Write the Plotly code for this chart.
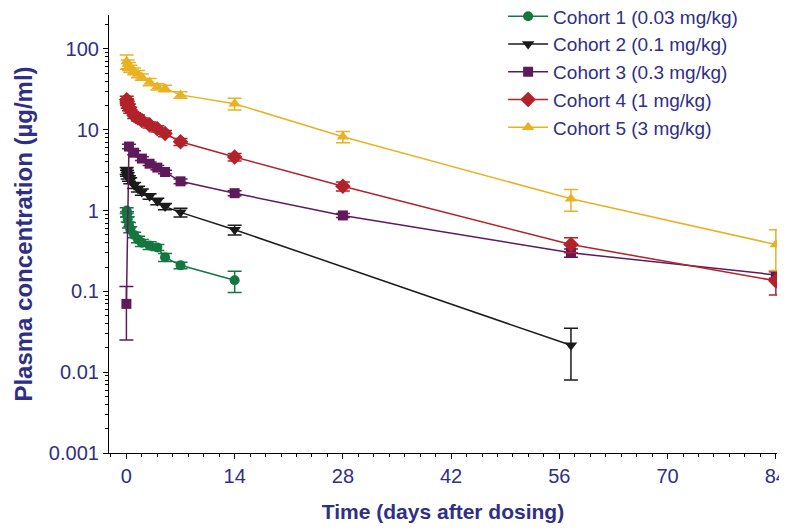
import plotly.graph_objects as go

# ---- data ----
c1_t = [0.04, 0.08, 0.17, 0.33, 0.5, 1, 1.5, 2, 3, 4, 5, 7, 14]
c1_v = [1.0, 0.9, 0.78, 0.66, 0.58, 0.5, 0.44, 0.4, 0.37, 0.35, 0.265, 0.21, 0.137]
c1_e = [0.08, 0.07, 0.06, 0.05, 0.05, 0.04, 0.04, 0.04, 0.04, 0.03, 0.03, 0.02, 0.04]

c2_t = [0.04, 0.08, 0.17, 0.33, 0.5, 1, 1.5, 2, 3, 4, 5, 7, 14, 57.5]
c2_v = [3.1, 2.9, 2.7, 2.5, 2.35, 2.05, 1.85, 1.7, 1.5, 1.3, 1.12, 0.95, 0.58, 0.0215]
c2_e = [0.3, 0.25, 0.25, 0.2, 0.2, 0.18, 0.15, 0.15, 0.12, 0.12, 0.1, 0.12, 0.08, 0.0135]

c3_t = [0, 0.33, 1, 2, 3, 4, 5, 7, 14, 28, 57.5, 84]
c3_v = [0.07, 6.2, 5.2, 4.4, 3.8, 3.4, 3.0, 2.3, 1.64, 0.87, 0.30, 0.16]
c3_e = [0.045, 0.4, 0.3, 0.25, 0.2, 0.2, 0.15, 0.15, 0.12, 0.05, 0.035, 0.015]

c4_t = [0.04, 0.08, 0.17, 0.33, 0.5, 1, 1.5, 2, 3, 4, 5, 7, 14, 28, 57.5, 84]
c4_v = [23.5, 22, 20.5, 19, 17.5, 15, 14, 13, 11.5, 10.3, 9, 7.1, 4.6, 2.0, 0.38, 0.135]
c4_e = [2.5, 2.0, 2.0, 1.8, 1.5, 1.2, 1.2, 1.0, 1.0, 0.9, 0.8, 0.7, 0.5, 0.25, 0.08, 0.045]

c5_t = [0.04, 0.17, 0.33, 0.5, 1, 1.5, 2, 3, 4, 5, 7, 14, 28, 57.5, 84]
c5_v = [70, 65, 61, 57, 53, 49, 45, 39, 34, 32.5, 27, 21, 8.2, 1.4, 0.38]
c5_e = [14, 8, 7, 6, 5, 5, 4, 4, 3, 3, 2.5, 3.5, 1.3, 0.42, 0.2]

names = ["Cohort 1 (0.03 mg/kg)", "Cohort 2 (0.1 mg/kg)", "Cohort 3 (0.3 mg/kg)",
         "Cohort 4 (1 mg/kg)", "Cohort 5 (3 mg/kg)"]

x_ticks = [0, 14, 28, 42, 56, 70, 84]
y_tickvals = [0.001, 0.01, 0.1, 1, 10, 100]
y_ticktext = ["0.001", "0.01", "0.1", "1", "10", "100"]

# ---- styles ----
colors = ["#13773f", "#1a1a1a", "#5f1a5b", "#b3212b", "#e9b223"]
symbols = ["circle", "triangle-down", "square", "diamond", "triangle-up"]
sizes = [10, 11, 10, 12, 11]
navy = "#2f2f86"

series = [(c1_t, c1_v, c1_e), (c2_t, c2_v, c2_e), (c3_t, c3_v, c3_e),
          (c4_t, c4_v, c4_e), (c5_t, c5_v, c5_e)]

fig = go.Figure()
for i, (t, v, e) in enumerate(series):
    fig.add_trace(go.Scatter(
        x=t, y=v, name=names[i], mode="lines+markers",
        line=dict(color=colors[i], width=1.5),
        marker=dict(symbol=symbols[i], size=sizes[i], color=colors[i]),
        error_y=dict(type="data", array=e, visible=True, color=colors[i],
                     thickness=1.5, width=7),
    ))

fig.update_layout(
    width=779, height=515,
    margin=dict(l=101, r=10, t=7, b=70, autoexpand=False),
    paper_bgcolor="white", plot_bgcolor="white",
    font=dict(family="Liberation Sans, Arial, sans-serif", color=navy, size=20),
    legend=dict(x=0.59, y=1.04, xanchor="left", yanchor="top",
                font=dict(size=19, color=navy), bgcolor="rgba(0,0,0,0)",
                tracegroupgap=0, itemwidth=40),
    showlegend=True,
)
fig.update_xaxes(
    range=[-2.25, 84.15], tickvals=x_ticks, ticks="outside", ticklen=5,
    tickcolor="black", showline=True, linecolor="black", linewidth=1.2,
    showgrid=False, zeroline=False, automargin=False, ticklabeloverflow="allow",
    minor=dict(dtick=2, tick0=0, ticks="outside", ticklen=3, tickcolor="black"),
    title=dict(text="<b>Time (days after dosing)</b>", font=dict(size=21, color=navy), standoff=18),
    tickfont=dict(size=20, color=navy),
)
fig.update_yaxes(
    type="log", range=[-3, 2.42], tickvals=y_tickvals, ticktext=y_ticktext,
    ticks="outside", ticklen=5, tickcolor="black", showline=True,
    linecolor="black", linewidth=1.2, showgrid=False, zeroline=False,
    automargin=False, ticklabeloverflow="allow",
    minor=dict(dtick="D1", ticks="outside", ticklen=3, tickcolor="black"),
    title=dict(text="<b>Plasma concentration (µg/ml)</b>", font=dict(size=24, color=navy), standoff=9),
    tickfont=dict(size=20, color=navy),
)

fig.write_html("out.html")
